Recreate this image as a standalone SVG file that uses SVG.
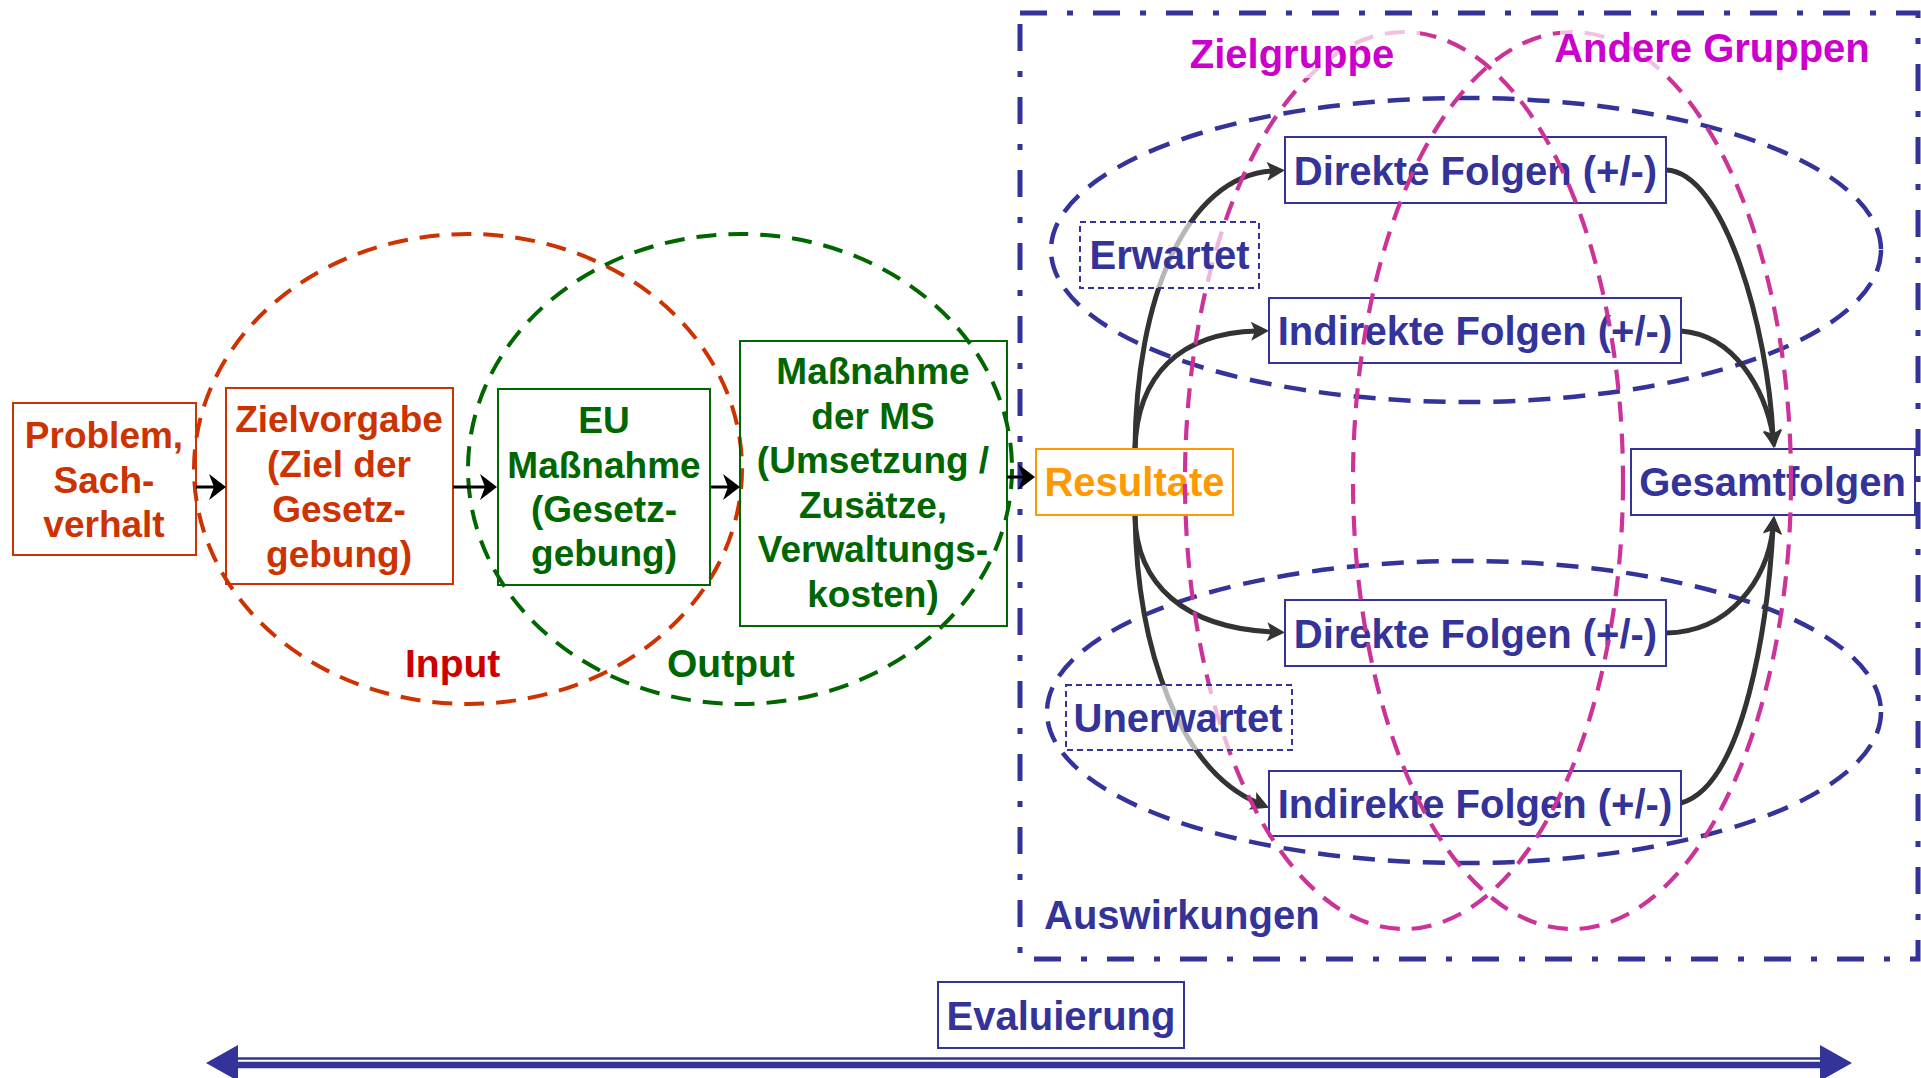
<svg xmlns="http://www.w3.org/2000/svg" width="1921" height="1078" viewBox="0 0 1921 1078">
<style>
text{font-family:"Liberation Sans",Arial,sans-serif;font-weight:bold}
.l{font-size:37px;text-anchor:middle}
.r{font-size:40px;text-anchor:middle;fill:#333399}
.red{fill:#cc3300}
.grn{fill:#006600}
.nb{fill:none;stroke:#333399;stroke-width:2}
.sa{fill:none;stroke:#000;stroke-width:3}
.ca{fill:none;stroke:#333;stroke-width:5}
.pk{fill:none;stroke:#cc3399;stroke-width:4.2;stroke-dasharray:20 12}
.bl{fill:none;stroke:#333399;stroke-width:4.5;stroke-dasharray:22 13}
.pl{fill:#cc00cc;font-size:40px;text-anchor:middle}
.fade{fill:#fff;fill-opacity:0.7}
</style>
<defs>
<marker id="sm" viewBox="-7 -14 20 28" refX="0" refY="0" markerWidth="20" markerHeight="28" markerUnits="userSpaceOnUse" orient="auto">
<path d="M11,0 L-6,-13 L-1,0 L-6,13 Z" fill="#000"/>
</marker>
<marker id="ah" viewBox="-8 -11 22 22" refX="0" refY="0" markerWidth="22" markerHeight="22" markerUnits="userSpaceOnUse" orient="auto">
<path d="M12,0 L-6,-9.5 L-2,0 L-6,9.5 Z" fill="#333"/>
</marker>
</defs>
<rect width="1921" height="1078" fill="#fff"/>

<!-- Input / Output circles -->
<g id="input-circle">
<ellipse cx="468" cy="469" rx="274" ry="235" fill="none" stroke="#cc3300" stroke-width="4" stroke-dasharray="20 12"/>
<text x="405" y="677" font-size="39" fill="#cc0000">Input</text>
</g>
<g id="output-circle">
<ellipse cx="740" cy="469" rx="272" ry="235" fill="none" stroke="#006600" stroke-width="4" stroke-dasharray="20 12"/>
<text x="667" y="677" font-size="39" fill="#006600">Output</text>
</g>

<!-- Auswirkungen frame -->
<g id="auswirkungen">
<rect x="1020" y="13" width="898" height="946" fill="none" stroke="#333399" stroke-width="5" stroke-dasharray="27 20 6 20"/>
<text x="1044" y="929" font-size="40" fill="#333399">Auswirkungen</text>
</g>

<!-- expected / unexpected ellipses -->
<g id="erwartet-ellipse"><ellipse class="bl" cx="1466" cy="250" rx="415" ry="152"/></g>
<g id="unerwartet-ellipse"><ellipse class="bl" cx="1464" cy="712" rx="417" ry="151"/></g>

<!-- left nodes -->
<g id="problem">
<rect x="13" y="403" width="183" height="152" fill="none" stroke="#cc3300" stroke-width="2"/>
<text class="l red" x="104" y="448">Problem,</text>
<text class="l red" x="104" y="493">Sach-</text>
<text class="l red" x="104" y="537">verhalt</text>
</g>
<g id="zielvorgabe">
<rect x="226" y="388" width="227" height="196" fill="none" stroke="#cc3300" stroke-width="2"/>
<text class="l red" x="339" y="432">Zielvorgabe</text>
<text class="l red" x="339" y="477">(Ziel der</text>
<text class="l red" x="339" y="522">Gesetz-</text>
<text class="l red" x="339" y="567">gebung)</text>
</g>
<g id="eu-massnahme">
<rect x="498" y="389" width="212" height="196" fill="none" stroke="#006600" stroke-width="2"/>
<text class="l grn" x="604" y="433">EU</text>
<text class="l grn" x="604" y="478">Maßnahme</text>
<text class="l grn" x="604" y="522">(Gesetz-</text>
<text class="l grn" x="604" y="566">gebung)</text>
</g>
<g id="ms-massnahme">
<rect x="740" y="341" width="267" height="285" fill="none" stroke="#006600" stroke-width="2"/>
<text class="l grn" x="873" y="384">Maßnahme</text>
<text class="l grn" x="873" y="429">der MS</text>
<text class="l grn" x="873" y="473">(Umsetzung /</text>
<text class="l grn" x="873" y="518">Zusätze,</text>
<text class="l grn" x="873" y="562">Verwaltungs-</text>
<text class="l grn" x="873" y="607">kosten)</text>
</g>

<!-- connectors -->
<g id="connectors">
<path class="sa" d="M196,487 H215" marker-end="url(#sm)"/>
<path class="sa" d="M453,487 H486" marker-end="url(#sm)"/>
<path class="sa" d="M711,487 H729" marker-end="url(#sm)"/>
<path class="sa" d="M1007,477 H1024" marker-end="url(#sm)"/>
<path class="ca" d="M1135,449 C1136,300 1185,176 1273,171" marker-end="url(#ah)"/>
<path class="ca" d="M1135,449 C1137,375 1180,333 1257,331" marker-end="url(#ah)"/>
<path class="ca" d="M1135,515 C1136,585 1185,628 1273,632" marker-end="url(#ah)"/>
<path class="ca" d="M1135,515 C1137,650 1180,770 1258,803" marker-end="url(#ah)"/>
<path class="ca" d="M1666,170 C1725,172 1768,330 1773,436" marker-end="url(#ah)"/>
<path class="ca" d="M1681,331 C1735,335 1765,390 1773,436" marker-end="url(#ah)"/>
<path class="ca" d="M1666,633 C1730,632 1767,580 1773,528" marker-end="url(#ah)"/>
<path class="ca" d="M1681,803 C1745,785 1768,620 1773,528" marker-end="url(#ah)"/>
</g>

<!-- right nodes -->
<g id="resultate">
<rect x="1036" y="449" width="197" height="66" fill="none" stroke="#ff9900" stroke-width="2"/>
<text x="1134.5" y="496" font-size="40" text-anchor="middle" fill="#ff9900">Resultate</text>
</g>
<g id="direkte-erwartet">
<rect class="nb" x="1285" y="137" width="381" height="66"/>
<text class="r" x="1475.5" y="185">Direkte Folgen (+/-)</text>
</g>
<g id="indirekte-erwartet">
<rect class="nb" x="1269" y="298" width="412" height="65"/>
<text class="r" x="1475" y="345">Indirekte Folgen (+/-)</text>
</g>
<g id="direkte-unerwartet">
<rect class="nb" x="1285" y="600" width="381" height="66"/>
<text class="r" x="1475.5" y="648">Direkte Folgen (+/-)</text>
</g>
<g id="indirekte-unerwartet">
<rect class="nb" x="1269" y="771" width="412" height="65"/>
<text class="r" x="1475" y="818">Indirekte Folgen (+/-)</text>
</g>
<g id="gesamtfolgen">
<rect class="nb" x="1631" y="449" width="284" height="66"/>
<text class="r" x="1772.5" y="496">Gesamtfolgen</text>
</g>

<!-- target groups -->
<g id="zielgruppe-ellipse"><ellipse class="pk" cx="1404" cy="480.5" rx="219" ry="448.5"/></g>
<g id="andere-gruppen-ellipse"><ellipse class="pk" cx="1572" cy="480.5" rx="219" ry="448.5"/></g>

<g id="zielgruppe">
<rect class="fade" x="1185" y="28" width="235" height="50"/>
<text class="pl" x="1292" y="68">Zielgruppe</text>
</g>
<g id="andere-gruppen">
<rect class="fade" x="1560" y="24" width="320" height="51"/>
<text class="pl" x="1712" y="62">Andere Gruppen</text>
</g>
<g id="erwartet">
<rect x="1080" y="222" width="179" height="66" fill="#fff" fill-opacity="0.65" stroke="#333399" stroke-width="2" stroke-dasharray="6 4"/>
<text class="r" x="1169.5" y="269">Erwartet</text>
</g>
<g id="unerwartet">
<rect x="1066" y="685" width="226" height="65" fill="#fff" fill-opacity="0.65" stroke="#333399" stroke-width="2" stroke-dasharray="6 4"/>
<text class="r" x="1178" y="732">Unerwartet</text>
</g>

<!-- Evaluierung -->
<g id="evaluierung">
<rect class="nb" x="938" y="982" width="246" height="66"/>
<text class="r" x="1061" y="1030">Evaluierung</text>
</g>
<g id="evaluierung-arrow">
<line x1="236" y1="1058.5" x2="1824" y2="1058.5" stroke="#333399" stroke-width="2.5"/>
<line x1="236" y1="1065" x2="1824" y2="1065" stroke="#333399" stroke-width="6.5"/>
<polygon points="206,1063 238,1045 238,1081" fill="#333399"/>
<polygon points="1852,1063 1820,1045 1820,1081" fill="#333399"/>
</g>
</svg>
